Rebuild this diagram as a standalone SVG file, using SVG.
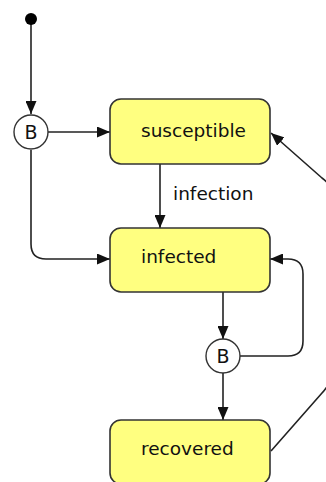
<svg xmlns="http://www.w3.org/2000/svg" width="326" height="482" viewBox="0 0 326 482">
<style>
.state rect{fill:#ffff80;stroke:#333;stroke-width:1.6}
.lbl{font-family:"DejaVu Sans",sans-serif;font-size:18.5px;fill:#111}
.br circle{fill:#fff;stroke:#333;stroke-width:1.4}
.br text{font-family:"DejaVu Sans",sans-serif;font-size:19px;fill:#111;text-anchor:middle}
.edge{fill:none;stroke:#222;stroke-width:1.6}
</style>
<defs>
<marker id="ah" viewBox="0 0 13 11" refX="13" refY="5.5" markerWidth="13" markerHeight="11" markerUnits="userSpaceOnUse" orient="auto">
<path d="M0,0 L13,5.5 L0,11 z" fill="#111"/>
</marker>
</defs>
<g id="connectors">
<path class="edge" d="M31,24 L31,114" marker-end="url(#ah)"/>
<path class="edge" d="M48,132 L110,132" marker-end="url(#ah)"/>
<path class="edge" d="M31,150 L31,244 Q31,259 46,259 L110,259" marker-end="url(#ah)"/>
<path class="edge" d="M160,164 L160,228" marker-end="url(#ah)"/>
<text class="lbl" x="173" y="200">infection</text>
<path class="edge" d="M223,292 L223,339" marker-end="url(#ah)"/>
<path class="edge" d="M240,356 L288,356 Q303,356 303,341 L303,274 Q303,259 288,259 L270,259" marker-end="url(#ah)"/>
<path class="edge" d="M223,373 L223,420" marker-end="url(#ah)"/>
<path class="edge" d="M271,451 L322,393 Q338,375 338,350 L338,210 Q338,190 322,178 L271,133" marker-end="url(#ah)"/>
</g>
<g id="initial"><circle cx="31" cy="19" r="6" fill="#000"/></g>
<g id="branch1" class="br"><circle cx="31" cy="132" r="17"/><text x="31" y="139">B</text></g>
<g id="branch2" class="br"><circle cx="223" cy="356" r="17"/><text x="223" y="363">B</text></g>
<g id="susceptible" class="state"><rect x="110" y="99" width="160" height="65" rx="11"/><text class="lbl" x="141" y="137">susceptible</text></g>
<g id="infected" class="state"><rect x="110" y="228" width="160" height="64" rx="11"/><text class="lbl" x="141" y="263">infected</text></g>
<g id="recovered" class="state"><rect x="110" y="420" width="160" height="64" rx="11"/><text class="lbl" x="141" y="455">recovered</text></g>
</svg>
